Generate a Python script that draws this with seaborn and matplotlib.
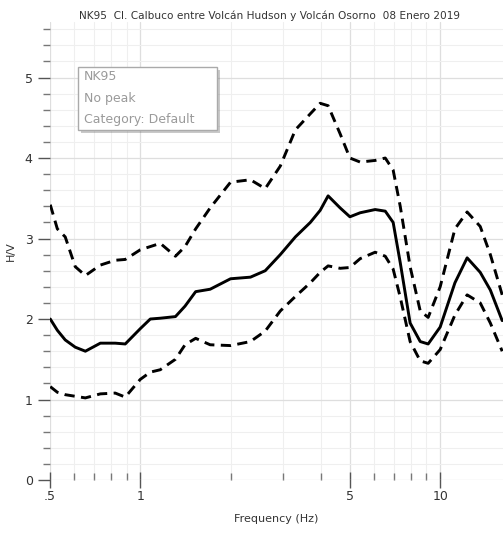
import numpy as np
import pandas as pd
import matplotlib
matplotlib.use("Agg")
import matplotlib.pyplot as plt
import matplotlib.ticker as mticker
import matplotlib.patheffects as pe
from matplotlib.patches import Rectangle
import seaborn as sns

# H/V curve (frequency in Hz)
freq = [0.501, 0.529, 0.562, 0.607, 0.656, 0.736, 0.825, 0.891, 1.0, 1.08,
        1.166, 1.31, 1.41, 1.53, 1.71, 2.0, 2.33, 2.61, 2.93, 3.29,
        3.69, 3.98, 4.23, 4.64, 5.0, 5.41, 6.07, 6.56, 6.97, 7.36,
        7.94, 8.58, 9.12, 10.0, 11.2, 12.3, 13.6, 14.7, 16.1]
hv_mean = [2.00, 1.86, 1.74, 1.65, 1.60, 1.70, 1.70, 1.69, 1.88, 2.00,
           2.01, 2.03, 2.16, 2.34, 2.37, 2.50, 2.52, 2.60, 2.80, 3.02,
           3.20, 3.35, 3.53, 3.38, 3.27, 3.32, 3.36, 3.34, 3.20, 2.70,
           1.95, 1.72, 1.69, 1.90, 2.45, 2.76, 2.58, 2.36, 1.98]
hv_upper = [3.42, 3.12, 3.02, 2.65, 2.54, 2.67, 2.73, 2.74, 2.86, 2.90,
            2.94, 2.78, 2.90, 3.12, 3.38, 3.70, 3.73, 3.62, 3.90, 4.35,
            4.55, 4.68, 4.65, 4.30, 4.00, 3.95, 3.97, 4.00, 3.85, 3.40,
            2.65, 2.10, 2.02, 2.40, 3.12, 3.33, 3.15, 2.80, 2.30]
hv_lower = [1.16, 1.09, 1.06, 1.04, 1.02, 1.07, 1.08, 1.03, 1.25, 1.34,
            1.37, 1.50, 1.68, 1.76, 1.68, 1.67, 1.72, 1.85, 2.10, 2.28,
            2.45, 2.58, 2.66, 2.63, 2.64, 2.75, 2.83, 2.78, 2.62, 2.27,
            1.72, 1.48, 1.45, 1.62, 2.05, 2.30, 2.20, 1.95, 1.60]

title = "NK95  Cl. Calbuco entre Volcán Hudson y Volcán Osorno  08 Enero 2019"
info_lines = ["NK95", "No peak", "Category: Default"]

df = pd.DataFrame({"freq": freq, "mean": hv_mean, "upper": hv_upper, "lower": hv_lower})

sns.set_theme(style="white")
plt.rcParams["font.family"] = ["DejaVu Sans"]

fig = plt.figure(figsize=(5.04, 5.33), dpi=100)
ax = fig.add_axes([50 / 504, 53 / 533, 453 / 504, 458 / 533])

sns.lineplot(data=df, x="freq", y="mean", ax=ax, color="black", lw=2.1)
for col in ["upper", "lower"]:
    sns.lineplot(data=df, x="freq", y=col, ax=ax, color="black", lw=2.1,
                 dashes=False, linestyle=(0, (3.5, 2.2)))

ax.set_xscale("log")
ax.set_xlim(0.5, 16.2)
ax.set_ylim(0, 5.69)

ax.xaxis.set_major_locator(mticker.FixedLocator([0.5, 1, 5, 10]))
ax.xaxis.set_major_formatter(mticker.FixedFormatter([".5", "1", "5", "10"]))
ax.xaxis.set_minor_locator(mticker.FixedLocator(
    [0.6, 0.7, 0.8, 0.9, 2, 3, 4, 6, 7, 8, 9, 20]))
ax.xaxis.set_minor_formatter(mticker.NullFormatter())
ax.yaxis.set_major_locator(mticker.MultipleLocator(1))
ax.yaxis.set_minor_locator(mticker.MultipleLocator(0.2))

ax.tick_params(axis="x", which="major", direction="inout", length=12, width=1,
               color="#555555", labelsize=9, labelcolor="#333333", bottom=True, pad=1)
ax.tick_params(axis="x", which="minor", direction="in", length=5, width=1,
               color="#777777", bottom=True)
ax.tick_params(axis="y", which="major", direction="out", length=9, width=1,
               color="#555555", labelsize=9, labelcolor="#333333", left=True)
ax.tick_params(axis="y", which="minor", direction="out", length=5, width=1,
               color="#777777", left=True)

ax.grid(which="minor", color="#efefef", lw=0.8)
ax.grid(which="major", color="#dedede", lw=0.9)
for s in ax.spines.values():
    s.set_visible(False)

ax.set_xlabel("Frequency (Hz)", fontsize=8, color="#333333", labelpad=8)
ax.set_ylabel("H/V", fontsize=8, color="#333333", labelpad=6)

fig.text(0.535, 1 - 16 / 533, title, ha="center", va="center",
         fontsize=7.6, color="#333333")

# info box in the top left
box = Rectangle((78 / 504, 1 - 130 / 533), 139 / 504, 63 / 533,
                transform=fig.transFigure, facecolor="white",
                edgecolor="#aaaaaa", lw=1, zorder=5)
box.set_path_effects([pe.withSimplePatchShadow(offset=(2, -2), alpha=0.3)])
fig.add_artist(box)
for i, line in enumerate(info_lines):
    fig.text(84 / 504, 1 - (77 + 21.5 * i) / 533, line, ha="left", va="center",
             fontsize=9, color="#9a9a9a", zorder=6)

fig.savefig("out.png", dpi=100)
